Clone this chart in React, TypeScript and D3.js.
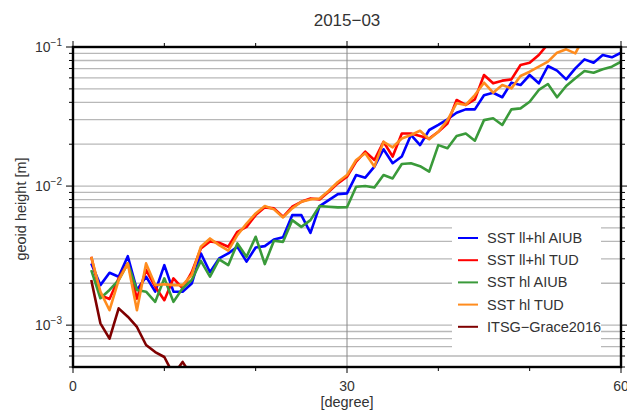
import React from "react";
import * as d3 from "d3";

const TITLE = "2015−03";
const X_LABEL = "[degree]";
const Y_LABEL = "geoid height [m]";
const X_TICK_LABELS = [0, 30, 60];
const X_MINOR_TICKS = [0, 10, 20, 30, 40, 50, 60];
const Y_MAJOR_TICKS = [1e-1, 1e-2, 1e-3];
const Y_MAJOR_EXP = ["−1", "−2", "−3"];

const SERIES_NAMES = ["SST ll+hl AIUB", "SST ll+hl TUD", "SST hl AIUB", "SST hl TUD", "ITSG−Grace2016"];
const SERIES_COLORS = ["#0000ff", "#ff0000", "#3a9a3a", "#ff8c1e", "#7f0000"];

const START_DEGREE = 2;

const blueValues = [
  2.78e-3, 1.94e-3, 2.38e-3, 2.23e-3, 3.13e-3, 1.79e-3, 2.23e-3, 1.74e-3, 2.70e-3, 1.74e-3,
  1.74e-3, 1.99e-3, 3.28e-3, 2.4e-3, 3.02e-3, 3.28e-3, 3.66e-3, 2.86e-3, 3.62e-3, 3.70e-3,
  4.13e-3, 4.28e-3, 6.18e-3, 6.18e-3, 4.61e-3, 7.18e-3, 7.93e-3, 8.75e-3, 8.86e-3, 1.2e-2,
  1.15e-2, 1.38e-2, 1.84e-2, 1.46e-2, 1.63e-2, 2.33e-2, 1.97e-2, 2.53e-2, 2.75e-2, 3.02e-2,
  3.37e-2, 3.56e-2, 3.56e-2, 4.5e-2, 4.69e-2, 4.35e-2, 5.54e-2, 5.33e-2, 6.29e-2, 5.48e-2,
  7.30e-2, 6.76e-2, 5.85e-2, 7.02e-2, 8.15e-2, 7.71e-2, 8.76e-2, 8.43e-2, 9.1e-2,
];

const redValues = [
  3.10e-3, 1.64e-3, 1.54e-3, 2.17e-3, 2.78e-3, 1.55e-3, 2.5e-3, 1.89e-3, 1.51e-3, 2.17e-3,
  1.84e-3, 2.4e-3, 3.56e-3, 4.0e-3, 3.91e-3, 3.66e-3, 4.69e-3, 5.09e-3, 6.18e-3, 7.03e-3,
  6.91e-3, 6.01e-3, 7.10e-3, 7.71e-3, 8.15e-3, 8.02e-3, 9.1e-3, 1.045e-2, 1.167e-2, 1.5e-2,
  1.77e-2, 1.54e-2, 2.08e-2, 1.63e-2, 2.39e-2, 2.39e-2, 2.29e-2, 2.2e-2, 2.46e-2, 2.82e-2,
  4.16e-2, 3.83e-2, 4.2e-2, 6.29e-2, 5.48e-2, 5.73e-2, 5.85e-2, 7.42e-2, 7.71e-2, 8.76e-2,
  1.05e-1,
];

const greenValues = [
  2.49e-3, 1.56e-3, 1.79e-3, 2.11e-3, 2.78e-3, 1.79e-3, 1.74e-3, 1.47e-3, 2.17e-3, 1.47e-3,
  1.84e-3, 2.11e-3, 2.9e-3, 2.23e-3, 2.97e-3, 2.70e-3, 3.87e-3, 3.10e-3, 4.32e-3, 2.75e-3,
  4.04e-3, 3.97e-3, 5.69e-3, 5.09e-3, 5.69e-3, 7.18e-3, 7.10e-3, 7.03e-3, 7.05e-3, 9.89e-3,
  1.0e-2, 9.78e-3, 1.2e-2, 1.135e-2, 1.44e-2, 1.46e-2, 1.39e-2, 1.27e-2, 1.97e-2, 1.87e-2,
  2.29e-2, 2.39e-2, 2.12e-2, 2.98e-2, 3.07e-2, 2.75e-2, 3.56e-2, 3.62e-2, 4.04e-2, 4.91e-2,
  5.42e-2, 4.35e-2, 5.24e-2, 5.95e-2, 6.72e-2, 6.53e-2, 6.91e-2, 7.22e-2, 7.84e-2,
];

const orangeValues = [
  3.10e-3, 1.74e-3, 1.28e-3, 2.11e-3, 2.78e-3, 1.28e-3, 2.78e-3, 1.94e-3, 1.97e-3, 1.94e-3,
  1.94e-3, 2.3e-3, 3.66e-3, 4.2e-3, 3.76e-3, 3.43e-3, 4.44e-3, 5.38e-3, 6.36e-3, 7.18e-3,
  6.80e-3, 5.95e-3, 6.91e-3, 7.71e-3, 8.02e-3, 8.15e-3, 9.25e-3, 1.07e-2, 1.2e-2, 1.54e-2,
  1.72e-2, 1.38e-2, 2.08e-2, 1.9e-2, 2.2e-2, 2.33e-2, 2.5e-2, 2.17e-2, 2.46e-2, 2.98e-2,
  3.94e-2, 3.83e-2, 4.51e-2, 5.54e-2, 4.69e-2, 5.33e-2, 5.04e-2, 6.19e-2, 6.64e-2, 7.22e-2,
  7.84e-2, 9.1e-2, 9.62e-2, 9.0e-2, 1.2e-1,
];

const itsgValues = [
  2.11e-3, 1.03e-3, 8.0e-4, 1.32e-3, 1.15e-3, 9.7e-4, 7.2e-4, 6.4e-4, 5.9e-4, 4.4e-4,
  5.44e-4, 4.3e-4,
];

const ALL_SERIES = [blueValues, redValues, greenValues, orangeValues, itsgValues];

const W = 627;
const H = 411;
const LEFT = 73;
const RIGHT = 621;
const TOP = 47;
const BOTTOM = 367;
const FONT = "'Liberation Sans', Arial, Helvetica, sans-serif";
const TEXT = "#333";

export default function App() {
  const x = d3.scaleLinear().domain([0, 60]).range([LEFT, RIGHT]);
  const y = d3.scaleLog().domain([5e-4, 0.1]).range([BOTTOM, TOP]);

  const gridVals: number[] = [];
  for (let k = -4; k <= -1; k++) {
    for (let m = 1; m <= 9; m++) {
      const v = m * Math.pow(10, k);
      if (v >= 5e-4 * 0.999 && v <= 0.1 * 1.001) gridVals.push(v);
    }
  }

  const line = d3
    .line<number>()
    .x((_, i) => x(START_DEGREE + i))
    .y((v) => y(v));

  const legendX = 458;
  const legendY0 = 238;
  const legendDy = 22.2;

  return (
    <svg
      width={W}
      height={H}
      style={{ position: "absolute", left: 0, top: 0, background: "#fff" }}
      fontFamily={FONT}
    >
      <defs>
        <clipPath id="plotClip">
          <rect x={LEFT} y={TOP} width={RIGHT - LEFT} height={BOTTOM - TOP} />
        </clipPath>
      </defs>
      <rect x={0} y={0} width={W} height={H} fill="#fff" />

      {/* horizontal grid */}
      {gridVals.map((v, i) => (
        <line
          key={"g" + i}
          x1={LEFT}
          x2={RIGHT}
          y1={y(v)}
          y2={y(v)}
          stroke="#b8b8b8"
          strokeWidth={1.3}
        />
      ))}
      {/* vertical grid at 30 */}
      <line x1={x(30)} x2={x(30)} y1={TOP} y2={BOTTOM} stroke="#888" strokeWidth={1} />

      {/* series */}
      <g clipPath="url(#plotClip)">
        {ALL_SERIES.map((vals, si) => (
          <path
            key={"s" + si}
            d={line(vals) || ""}
            fill="none"
            stroke={SERIES_COLORS[si]}
            strokeWidth={2.6}
            strokeLinejoin="round"
          />
        ))}
      </g>

      {/* legend */}
      <rect x={452} y={222} width={149} height={128} fill="#fff" />
      {SERIES_NAMES.map((name, i) => (
        <g key={"l" + i}>
          <line
            x1={legendX}
            x2={legendX + 20}
            y1={legendY0 + i * legendDy}
            y2={legendY0 + i * legendDy}
            stroke={SERIES_COLORS[i]}
            strokeWidth={2}
          />
          <text
            x={487}
            y={legendY0 + i * legendDy + 5}
            fontSize={14.5}
            fill={TEXT}
          >
            {name}
          </text>
        </g>
      ))}

      {/* frame */}
      <rect
        x={LEFT}
        y={TOP}
        width={RIGHT - LEFT}
        height={BOTTOM - TOP}
        fill="none"
        stroke="#000"
        strokeWidth={2.4}
      />

      {/* x ticks bottom & top */}
      {X_MINOR_TICKS.map((t) => {
        const major = t % 30 === 0;
        const len = major ? 6 : 4;
        return (
          <g key={"xt" + t}>
            <line x1={x(t)} x2={x(t)} y1={BOTTOM} y2={BOTTOM + len} stroke="#000" strokeWidth={1} />
            <line x1={x(t)} x2={x(t)} y1={TOP} y2={TOP - len} stroke="#000" strokeWidth={1} />
          </g>
        );
      })}
      {X_TICK_LABELS.map((t) => (
        <text key={"xl" + t} x={x(t)} y={391} fontSize={14} textAnchor="middle" fill={TEXT}>
          {t}
        </text>
      ))}
      <text x={x(30)} y={407} fontSize={14.5} textAnchor="middle" fill={TEXT}>
        {X_LABEL}
      </text>

      {/* y ticks left & right */}
      {gridVals.map((v, i) => {
        const major = Y_MAJOR_TICKS.some((m) => Math.abs(m - v) / m < 1e-6);
        const len = major ? 7 : 4;
        return (
          <g key={"yt" + i}>
            <line x1={LEFT - len} x2={LEFT} y1={y(v)} y2={y(v)} stroke="#000" strokeWidth={1} />
            <line x1={RIGHT} x2={RIGHT + len} y1={y(v)} y2={y(v)} stroke="#000" strokeWidth={1} />
          </g>
        );
      })}
      {Y_MAJOR_TICKS.map((v, i) => (
        <text key={"yl" + i} x={62} y={y(v) + 5} fontSize={14} textAnchor="end" fill={TEXT}>
          10
          <tspan fontSize={10} dy={-6}>
            {Y_MAJOR_EXP[i]}
          </tspan>
        </text>
      ))}
      <text
        transform={`translate(26, ${(TOP + BOTTOM) / 2 + 2}) rotate(-90)`}
        fontSize={14.5}
        textAnchor="middle"
        fill={TEXT}
      >
        {Y_LABEL}
      </text>

      {/* title */}
      <text x={x(30)} y={26} fontSize={17} textAnchor="middle" fill={TEXT}>
        {TITLE}
      </text>
    </svg>
  );
}
